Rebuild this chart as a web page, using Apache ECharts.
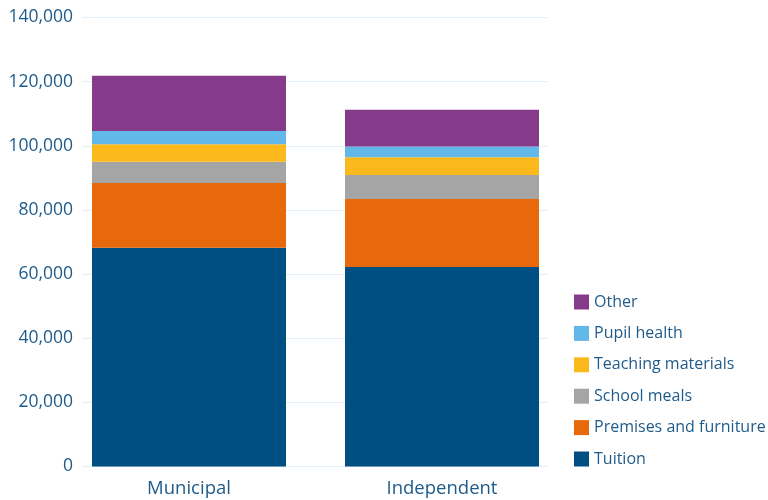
<!DOCTYPE html>
<html>
<head>
<meta charset="utf-8">
<script src="https://cdn.jsdelivr.net/npm/echarts@6/dist/echarts.min.js"></script>
<style>
  html, body { margin: 0; padding: 0; background: #fff; }
  #chart { width: 768px; height: 500px; }
</style>
</head>
<body>
<div id="chart"></div>
<script>
// School types along the x axis
const categories = ['Municipal', 'Independent'];

// Cost per pupil by cost item (SEK)
const tuition = [68200, 62200];
const premises = [20200, 21200];
const schoolMeals = [6600, 7500];
const teachingMaterials = [5500, 5500];
const pupilHealth = [4100, 3400];
const other = [17200, 11400];

// Value axis ticks
const yMin = 0;
const yMax = 140000;
const yStep = 20000;

const textColor = '#1f5b8a';
const font = '"Open Sans", "Noto Sans", sans-serif';

const seriesDefs = [
  { name: 'Tuition', data: tuition, color: '#004f82' },
  { name: 'Premises and furniture', data: premises, color: '#e8690b' },
  { name: 'School meals', data: schoolMeals, color: '#a5a5a5' },
  { name: 'Teaching materials', data: teachingMaterials, color: '#fbb91c' },
  { name: 'Pupil health', data: pupilHealth, color: '#62b8e8' },
  { name: 'Other', data: other, color: '#863a8a' }
];

const chart = echarts.init(document.getElementById('chart'));

chart.setOption({
  animation: false,
  backgroundColor: '#fff',
  legend: {
    orient: 'vertical',
    left: 569,
    top: 289,
    itemWidth: 15,
    itemHeight: 15,
    itemGap: 15.4,
    icon: 'rect',
    data: seriesDefs.map(s => s.name).reverse(),
    textStyle: { color: textColor, fontSize: 16, fontFamily: font }
  },
  grid: [
    // bars
    { left: 62.5, right: 199.5, top: 17.5, bottom: 33.5 },
    // gridlines and value labels
    { left: 82, right: 220, top: 17.5, bottom: 33.5 }
  ],
  xAxis: [
    {
      type: 'category',
      gridIndex: 0,
      data: categories,
      axisLine: { show: false },
      axisTick: { show: false },
      axisLabel: { color: textColor, fontSize: 18.5, fontFamily: font, margin: 13 }
    },
    { type: 'category', gridIndex: 1, data: categories, show: false }
  ],
  yAxis: [
    {
      type: 'value', gridIndex: 0, min: yMin, max: yMax, interval: yStep,
      show: false
    },
    {
      type: 'value', gridIndex: 1, min: yMin, max: yMax, interval: yStep,
      axisLine: { show: false },
      axisTick: { show: false },
      splitLine: { lineStyle: { color: '#e2eef8', width: 1 } },
      axisLabel: {
        color: textColor, fontSize: 17.5, fontFamily: font, margin: 9,
        formatter: v => v.toLocaleString('en-US')
      }
    }
  ],
  series: seriesDefs.map(s => ({
    name: s.name,
    type: 'bar',
    stack: 'total',
    xAxisIndex: 0,
    yAxisIndex: 0,
    barWidth: 194,
    data: s.data,
    itemStyle: { color: s.color }
  }))
});
</script>
</body>
</html>
